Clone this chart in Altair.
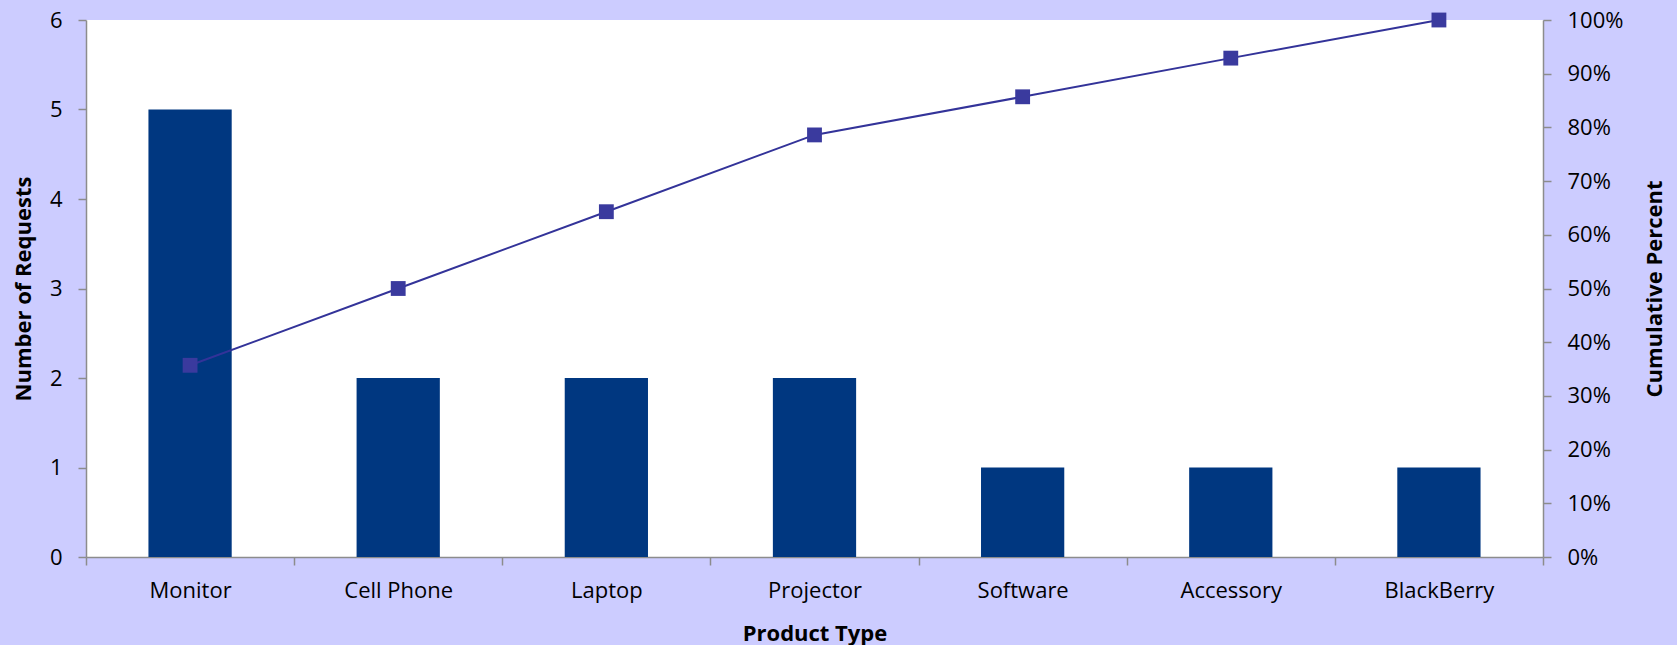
import altair as alt
import pandas as pd

categories = ["Monitor", "Cell Phone", "Laptop", "Projector", "Software", "Accessory", "BlackBerry"]
requests = [5, 2, 2, 2, 1, 1, 1]
cumulative_pct = [0.357, 0.500, 0.643, 0.786, 0.857, 0.929, 1.000]

df = pd.DataFrame({"Product Type": categories, "Requests": requests, "Cumulative": cumulative_pct})

FONT = "Open Sans"
BAR = "#003780"
LINE = "#333399"

x = alt.X("Product Type:N", sort=categories,
          scale=alt.Scale(paddingInner=0, paddingOuter=0),
          axis=alt.Axis(title="Product Type", labelAngle=0, tickBand="extent",
                        tickSize=8, labelPadding=15, titlePadding=22,
                        domainColor="#8c8c8c", tickColor="#8c8c8c", domainWidth=1.5, tickWidth=1.5))

bars = alt.Chart(df).mark_bar(color=BAR, width=alt.RelativeBandSize(0.4)).encode(
    x=x,
    y=alt.Y("Requests:Q", scale=alt.Scale(domain=[0, 6], nice=False),
            axis=alt.Axis(title="Number of Requests", values=[0, 1, 2, 3, 4, 5, 6], grid=False,
                          tickSize=8, labelPadding=16, titlePadding=14,
                          domainColor="#8c8c8c", tickColor="#8c8c8c", domainWidth=1.5, tickWidth=1.5)),
)

yr = alt.Y("Cumulative:Q", scale=alt.Scale(domain=[0, 1], nice=False),
           axis=alt.Axis(title="Cumulative Percent", orient="right", format=".0%",
                         values=[0, 0.1, 0.2, 0.3, 0.4, 0.5, 0.6, 0.7, 0.8, 0.9, 1.0], grid=False,
                         tickSize=8, labelPadding=16, titlePadding=44, titleAngle=270,
                         domainColor="#8c8c8c", tickColor="#8c8c8c", domainWidth=1.5, tickWidth=1.5))

line = alt.Chart(df).mark_line(color=LINE, strokeWidth=2).encode(x=x, y=yr)
pts = alt.Chart(df).mark_point(shape="square", filled=True, size=220, color="#3a3a9e", opacity=1).encode(x=x, y=yr)

chart = alt.layer(bars, line + pts).resolve_scale(y="independent").properties(
    width=1457, height=537,
    autosize=alt.AutoSizeParams(type="none"),
    padding={"left": 86, "top": 20, "right": 134, "bottom": 88},
    background="#CCCCFF",
).configure_view(fill="white", strokeWidth=0).configure_axis(
    labelFont=FONT, titleFont=FONT, labelFontSize=22, titleFontSize=22,
    labelColor="black", titleColor="black", titleFontWeight="bold",
)

chart.save("out.html", embed_options={"renderer": "svg", "actions": False})
